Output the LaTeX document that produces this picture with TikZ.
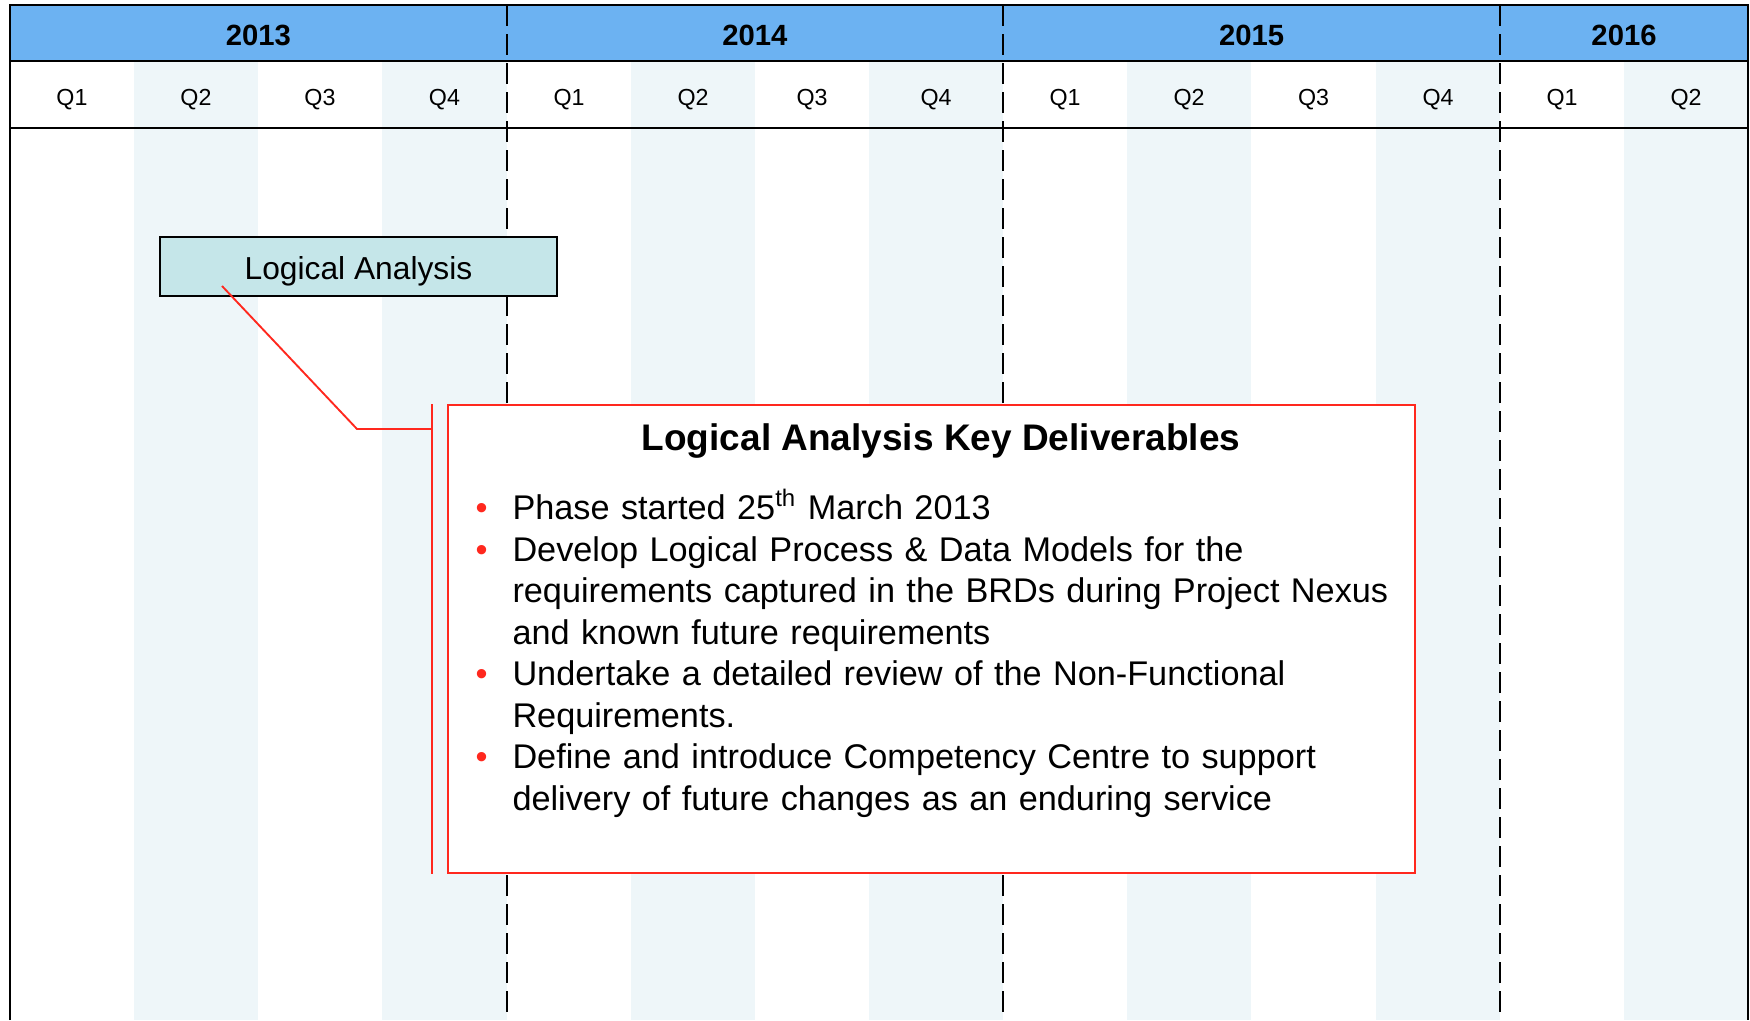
\documentclass[tikz,border=0pt]{standalone}
\usepackage{fontspec}
\setmainfont{Liberation Sans}
\usepackage{enumitem}
\usetikzlibrary{positioning}
\definecolor{hdrblue}{RGB}{108,178,242}
\definecolor{qshade}{RGB}{238,246,249}
\definecolor{boxteal}{RGB}{197,230,233}
\definecolor{kdred}{RGB}{255,40,30}
\begin{document}
\begin{tikzpicture}[x=0.4pt,y=-0.4pt]
\tikzstyle{year}=[font=\bfseries\fontsize{11.7}{13}\selectfont]
\tikzstyle{qtr}=[font=\fontsize{9.3}{11}\selectfont]
\tikzstyle{phase}=[rectangle, draw=black, line width=0.8pt, fill=boxteal, minimum width=158.8pt, minimum height=23.6pt, inner sep=0pt, text height=12.8pt, text depth=2.7pt, font=\fontsize{12.7}{15}\selectfont]
\tikzstyle{callout}=[rectangle, draw=kdred, line width=0.7pt, fill=white, minimum width=386.8pt, minimum height=187.2pt, inner sep=0pt]
\tikzstyle{kdhead}=[font=\bfseries\fontsize{14.8}{17}\selectfont]
\tikzstyle{kdtext}=[text width=400pt, inner sep=0pt, align=left, font=\fontsize{13.7}{16.6}\selectfont]
\tikzstyle{yearline}=[black, line width=0.8pt, dash pattern=on 8.4pt off 3.2pt]
\tikzstyle{connect}=[kdred, line width=0.75pt]
  \useasboundingbox (0,0) rectangle (1750,1020);
  \fill[white] (0,0) rectangle (1750,1020);
  % quarter columns and header
  \foreach \xa/\xb in {134/258, 382/507, 631/755, 869/1003, 1127/1251, 1376/1500, 1624/1748}
    \fill[qshade] (\xa,61) rectangle (\xb,1020);
  \fill[hdrblue] (10,5) rectangle (1748,61);
  \foreach \xa/\xb/\q in {10/134/1, 134/258/2, 258/382/3, 382/507/4, 507/631/1, 631/755/2, 755/869/3,
      869/1003/4, 1003/1127/1, 1127/1251/2, 1251/1376/3, 1376/1500/4, 1500/1624/1, 1624/1748/2}
    \node[qtr] (q\xa) at ({(\xa+\xb)/2},99.5) {Q\q};
  \foreach \yr [count=\n from 0] in {2013,2014,2015}
    \node[year] (y\yr) at ({258.3+496.67*\n},35) {\yr};
  \node[year] (y2016) at (1624,35) {2016};
  \foreach \x in {507,1003,1500}
    \draw[yearline] (\x,5) -- (\x,1020);
  \draw[line width=0.8pt] (10,1020) -- (10,5) -- (1748,5) -- (1748,1020);
  \draw[line width=0.8pt] (10,61) -- (1748,61) (10,128) -- (1748,128);
  % phase and callout
  \node[phase] (la) at (358.5,266.5) {Logical Analysis};
  \node[callout] (kd) at (931.5,639) {};
  \node[kdhead] (kdtitle) at (941,441.5) {Logical Analysis Key Deliverables};
  \node[kdtext, anchor=base west] (kdlist) at (464,478) {\raggedright
    \begin{itemize}[leftmargin=19.2pt, labelwidth=9.2pt, labelsep=10pt, itemsep=0pt, parsep=0pt, topsep=0pt, label=\textcolor{kdred}{\textbullet}]
      \item Phase started 25\textsuperscript{th} March 2013
      \item Develop Logical Process \& Data Models for the\\ requirements captured in the BRDs during Project Nexus\\ and known future requirements
      \item Undertake a detailed review of the Non-Functional\\ Requirements.
      \item Define and introduce Competency Centre to support\\ delivery of future changes as an enduring service
    \end{itemize}};
  \coordinate (lapin) at (222,286);
  \coordinate (elbow) at (357,429);
  \coordinate (bartop) at ([xshift=-6pt]kd.north west);
  \coordinate (barbot) at ([xshift=-6pt]kd.south west);
  \draw[connect] (lapin) -- (elbow) -- (elbow -| bartop);
  \draw[connect] (bartop) -- (barbot);
\end{tikzpicture}
\end{document}
